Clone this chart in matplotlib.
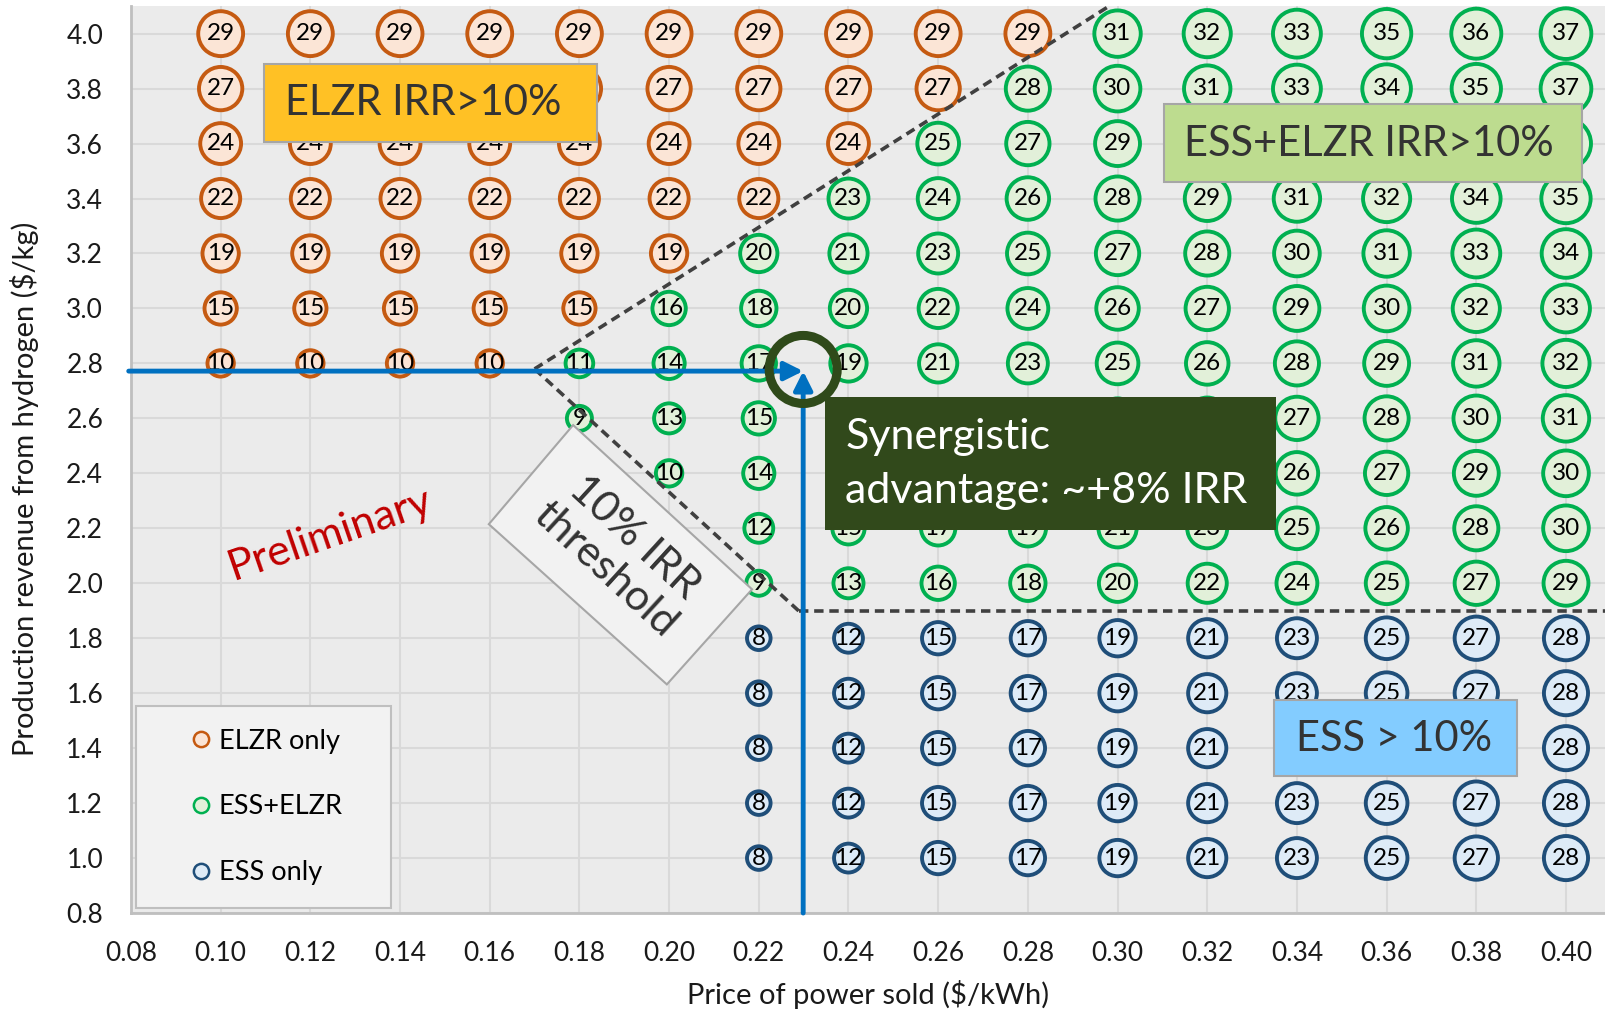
import matplotlib.pyplot as plt
from matplotlib.lines import Line2D
from matplotlib.patches import Rectangle, Polygon

plt.rcParams['font.family'] = ['Lato', 'DejaVu Sans']

# price of power sold ($/kWh) and hydrogen revenue ($/kg)
prices = [0.10, 0.12, 0.14, 0.16, 0.18, 0.20, 0.22, 0.24,
          0.26, 0.28, 0.30, 0.32, 0.34, 0.36, 0.38, 0.40]
revenues = [4.0, 3.8, 3.6, 3.4, 3.2, 3.0, 2.8, 2.6,
            2.4, 2.2, 2.0, 1.8, 1.6, 1.4, 1.2, 1.0]

N = None
# IRR (%) per revenue row, one value per price
irr_rows = [
    [29, 29, 29, 29, 29, 29, 29, 29, 29, 29, 31, 32, 33, 35, 36, 37],
    [27, 27, 27, 27, 27, 27, 27, 27, 27, 28, 30, 31, 33, 34, 35, 37],
    [24, 24, 24, 24, 24, 24, 24, 24, 25, 27, 29, 30, 32, 33, 35, 36],
    [22, 22, 22, 22, 22, 22, 22, 23, 24, 26, 28, 29, 31, 32, 34, 35],
    [19, 19, 19, 19, 19, 19, 20, 21, 23, 25, 27, 28, 30, 31, 33, 34],
    [15, 15, 15, 15, 15, 16, 18, 20, 22, 24, 26, 27, 29, 30, 32, 33],
    [10, 10, 10, 10, 11, 14, 17, 19, 21, 23, 25, 26, 28, 29, 31, 32],
    [N, N, N, N, 9, 13, 15, 17, 19, 21, 23, 25, 27, 28, 30, 31],
    [N, N, N, N, N, 10, 14, 16, 18, 20, 22, 24, 26, 27, 29, 30],
    [N, N, N, N, N, N, 12, 15, 17, 19, 21, 23, 25, 26, 28, 30],
    [N, N, N, N, N, N, 9, 13, 16, 18, 20, 22, 24, 25, 27, 29],
    [N, N, N, N, N, N, 8, 12, 15, 17, 19, 21, 23, 25, 27, 28],
    [N, N, N, N, N, N, 8, 12, 15, 17, 19, 21, 23, 25, 27, 28],
    [N, N, N, N, N, N, 8, 12, 15, 17, 19, 21, 23, 25, 27, 28],
    [N, N, N, N, N, N, 8, 12, 15, 17, 19, 21, 23, 25, 27, 28],
    [N, N, N, N, N, N, 8, 12, 15, 17, 19, 21, 23, 25, 27, 28],
]
# O = ELZR only, G = ESS+ELZR, B = ESS only
kind_rows = [
    "OOOOOOOOOOGGGGGG",
    "OOOOOOOOOGGGGGGG",
    "OOOOOOOOGGGGGGGG",
    "OOOOOOOGGGGGGGGG",
    "OOOOOOGGGGGGGGGG",
    "OOOOOGGGGGGGGGGG",
    "OOOOGGGGGGGGGGGG",
    "----GGGGGGGGGGGG",
    "-----GGGGGGGGGGG",
    "------GGGGGGGGGG",
    "------GGGGGGGGGG",
    "------BBBBBBBBBB",
    "------BBBBBBBBBB",
    "------BBBBBBBBBB",
    "------BBBBBBBBBB",
    "------BBBBBBBBBB",
]

series = {
    'O': ('ELZR only', '#C55A11', '#FBE5D6'),
    'G': ('ESS+ELZR', '#00B050', '#E2F0D9'),
    'B': ('ESS only', '#1F4E79', '#DEEBF7'),
}

fig = plt.figure(figsize=(16.05, 10.11), dpi=100)
ax = fig.add_axes([0.0816, 0.0969, 0.9184, 0.897])
ax.set_facecolor('#EBEBEB')

for k, (label, edge, fill) in series.items():
    xs, ys, vs = [], [], []
    for r, row in enumerate(irr_rows):
        for c, v in enumerate(row):
            if v is not None and kind_rows[r][c] == k:
                xs.append(prices[c])
                ys.append(revenues[r])
                vs.append(v)
    ax.scatter(xs, ys, s=[v * 36 for v in vs], facecolor=fill, edgecolor=edge,
               linewidth=2.8, zorder=3, clip_on=False)
    for x, y, v in zip(xs, ys, vs):
        ax.text(x, y, str(v), ha='center', va='center', fontsize=17.5,
                color='black', zorder=4)

# threshold lines
dash = (0, (2.6, 1.6))
ax.plot([0.17, 0.2985], [2.78, 4.104], color='#404040', lw=2.6, ls=dash, zorder=5)
ax.plot([0.17, 0.229], [2.78, 1.898], color='#404040', lw=2.6, ls=dash, zorder=5)
ax.plot([0.229, 0.41], [1.898, 1.898], color='#404040', lw=2.6, ls=dash, zorder=5)

# labelled boxes
ax.add_patch(Rectangle((0.1097, 3.607), 0.0742, 0.284, facecolor='#FFC125',
                       edgecolor='#A6A6A6', lw=1.5, zorder=6))
ax.text(0.1143, 3.749, 'ELZR IRR>10%', ha='left', va='center', fontsize=30,
        color='#333333', zorder=7)

ax.add_patch(Rectangle((0.3104, 3.46), 0.0932, 0.285, facecolor='#BDDC8F',
                       edgecolor='#A6A6A6', lw=1.5, zorder=6))
ax.text(0.3148, 3.599, 'ESS+ELZR IRR>10%', ha='left', va='center', fontsize=30,
        color='#333333', zorder=7)

ax.add_patch(Rectangle((0.3349, 1.297), 0.0542, 0.28, facecolor='#83CCFF',
                       edgecolor='#A6A6A6', lw=1.5, zorder=6))
ax.text(0.3398, 1.435, 'ESS > 10%', ha='left', va='center', fontsize=30,
        color='#333333', zorder=7)

ax.add_patch(Rectangle((0.2348, 2.193), 0.1005, 0.485, facecolor='#31491B',
                       edgecolor='none', zorder=6))
ax.text(0.2393, 2.4335, 'Synergistic\nadvantage: ~+8% IRR', ha='left', va='center',
        fontsize=31, color='white', linespacing=1.5, zorder=7)

ax.add_patch(Polygon([(0.1786, 2.5756), (0.1598, 2.215), (0.1995, 1.632), (0.2185, 1.978)],
                     closed=True, facecolor='#F2F2F2', edgecolor='#A6A6A6', lw=1.5, zorder=6))
ax.text(0.189, 2.109, '10% IRR\nthreshold', ha='center', va='center', fontsize=31,
        color='#333333', rotation=-42.5, rotation_mode='anchor', linespacing=1.2, zorder=7)

ax.text(0.1243, 2.178, 'Preliminary', ha='center', va='center', fontsize=31,
        color='#C00000', rotation=19, zorder=7)

# arrows to the synergy point
ax.annotate('', xy=(0.2299, 2.772), xytext=(0.0795, 2.772),
            arrowprops=dict(arrowstyle='-|>', color='#0070C0', lw=3.5,
                            mutation_scale=28, shrinkA=0, shrinkB=0),
            zorder=8, annotation_clip=False)
ax.annotate('', xy=(0.2299, 2.772), xytext=(0.2299, 0.8),
            arrowprops=dict(arrowstyle='-|>', color='#0070C0', lw=3.5,
                            mutation_scale=28, shrinkA=0, shrinkB=0),
            zorder=8, annotation_clip=False)
ax.scatter([0.2299], [2.778], s=2400, facecolor='none', edgecolor='#2F4A1A',
           linewidth=6.5, zorder=8)

# axes styling
ax.set_xlim(0.08, 0.4087)
ax.set_ylim(0.8, 4.1)
ax.set_xticks([0.08 + 0.02 * i for i in range(17)])
ax.set_yticks([0.8 + 0.2 * i for i in range(17)])
ax.xaxis.set_major_formatter(plt.FormatStrFormatter('%.2f'))
ax.yaxis.set_major_formatter(plt.FormatStrFormatter('%.1f'))
ax.tick_params(length=0, labelsize=19, labelcolor='#1A1A1A')
ax.tick_params(axis='x', pad=20)
ax.tick_params(axis='y', pad=20)
ax.grid(True, color='#D9D9D9', lw=1.5, zorder=0)
ax.set_axisbelow(True)
for side in ['top', 'right']:
    ax.spines[side].set_visible(False)
for side in ['left', 'bottom']:
    ax.spines[side].set_color('#BFBFBF')
    ax.spines[side].set_linewidth(2)

ax.set_xlabel('Price of power sold ($/kWh)', fontsize=21, color='#1A1A1A')
ax.xaxis.set_label_coords(0.5, -0.0739)
ax.set_ylabel('Production revenue from hydrogen ($/kg)', fontsize=21, color='#1A1A1A')
ax.yaxis.set_label_coords(-0.0624, 0.4675)

handles = [Line2D([], [], marker='o', ls='none', markersize=11,
                  markerfacecolor=fill, markeredgecolor=edge, markeredgewidth=1.8,
                  label=label) for label, edge, fill in series.values()]
leg = ax.legend(handles=handles, loc='lower left', bbox_to_anchor=(0.0035, 0.0055, 0.173, 0.2),
                mode='expand', fontsize=19.5, frameon=True, fancybox=False, framealpha=1,
                facecolor='#F2F2F2', edgecolor='#BFBFBF', labelspacing=1.5,
                borderpad=0.85, handletextpad=-0.9, borderaxespad=0, handlelength=3.1)
leg.get_frame().set_linewidth(1.5)
leg.set_zorder(9)

fig.savefig('out.png', dpi=100)
